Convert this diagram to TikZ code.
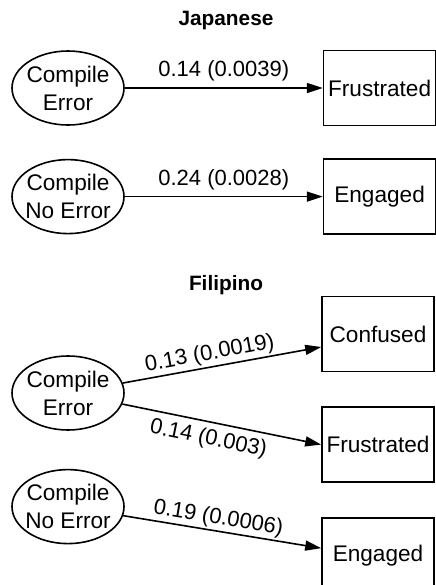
\documentclass[tikz,border=0pt]{standalone}
\usepackage{fontspec}
\setmainfont{Liberation Sans}
\usetikzlibrary{shapes.geometric, arrows.meta, positioning}

\begin{document}
\begin{tikzpicture}[
		state/.style={ellipse, draw, line width=0.8pt, minimum width=56pt, minimum height=37pt,
			inner xsep=-12pt, inner ysep=-6pt, align=center, font=\fontsize{11.3}{14}\selectfont},
		emotion/.style={rectangle, draw, line width=0.8pt, minimum width=56pt, minimum height=37.5pt,
			inner sep=0pt, align=center, font=\fontsize{11.3}{14}\selectfont},
		heading/.style={font=\fontsize{10.4}{12}\selectfont\bfseries},
		edgelabel/.style={font=\fontsize{11}{13}\selectfont, inner sep=1pt},
		arrow/.style={-{Triangle[length=8pt, width=5pt]}, line width=0.8pt},
		]
		\useasboundingbox (0,0) rectangle (217.5pt,-292.5pt);

		% Japanese
		\node[heading] (jp) at (113pt,-10pt) {Japanese};
		\node[state] (jpErr) at (34pt,-44pt) {Compile\\Error};
		\node[emotion, right=99pt of jpErr] (jpFrus) {Frustrated};
		\node[state, below=16.5pt of jpErr] (jpNoErr) {Compile\\No Error};
		\node[emotion, right=99pt of jpNoErr] (jpEng) {Engaged};

		\draw[arrow] (jpErr) -- node[edgelabel, above=2pt] {0.14 (0.0039)} (jpFrus);
		\draw[arrow] (jpNoErr) -- node[edgelabel, above=2pt] {0.24 (0.0028)} (jpEng);

		% Filipino
		\node[heading] (ph) at (113pt,-142.5pt) {Filipino};
		\node[emotion] (phConf) at (189pt,-167pt) {Confused};
		\node[emotion, below=17pt of phConf] (phFrus) {Frustrated};
		\node[emotion, below=17pt of phFrus] (phEng) {Engaged};
		\node[state] (phErr) at (34pt,-196.5pt) {Compile\\Error};
		\node[state, below=19pt of phErr] (phNoErr) {Compile\\No Error};

		\draw[arrow] (phErr) -- node[edgelabel, sloped, above, pos=0.45] {0.13 (0.0019)} ([yshift=-6.5pt]phConf.west);
		\draw[arrow] (phErr) -- node[edgelabel, sloped, below=2pt, pos=0.45] {0.14 (0.003)} (phFrus.west);
		\draw[arrow] (phNoErr) -- node[edgelabel, sloped, above, pos=0.47] {0.19 (0.0006)} ([yshift=3.5pt]phEng.west);
	\end{tikzpicture}
\end{document}
